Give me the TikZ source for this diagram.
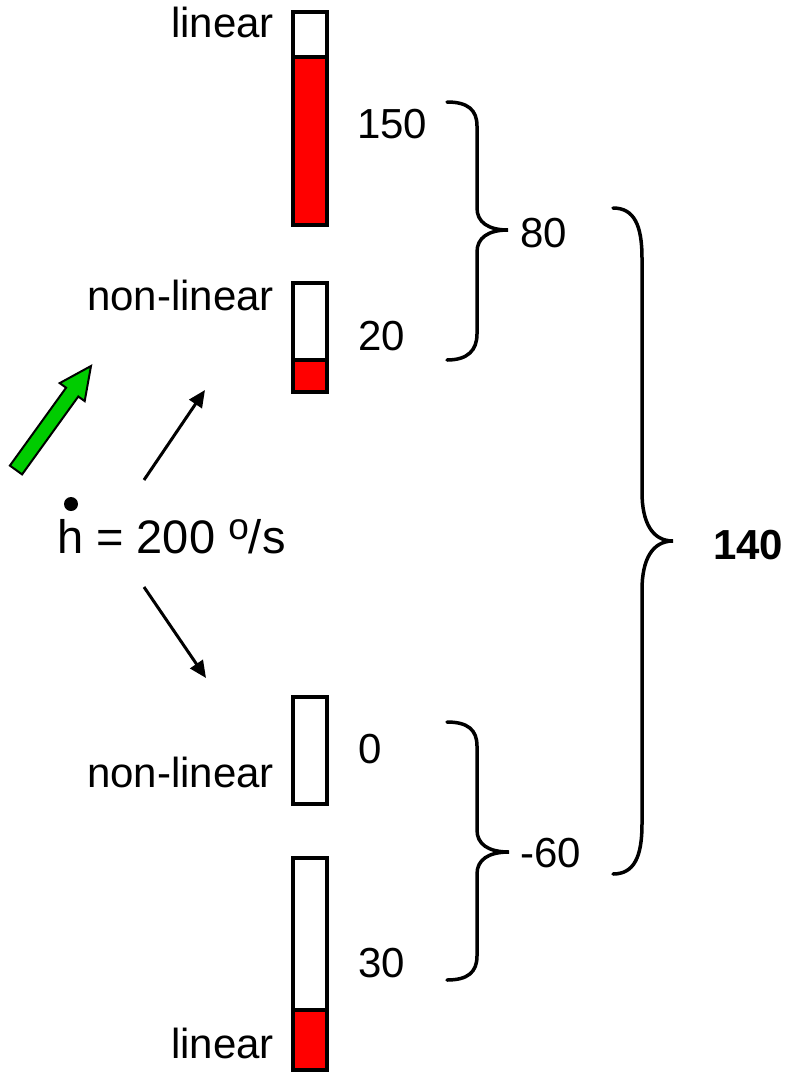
\documentclass[tikz,border=0pt]{standalone}
\usepackage{fontspec}
\setmainfont{Liberation Sans}
\usetikzlibrary{arrows.meta}
\definecolor{barred}{RGB}{255,0,0}
\definecolor{arrgreen}{RGB}{0,204,0}
\tikzset{
  lbl/.style={inner sep=0pt, font=\fontsize{42}{48}\selectfont},
  leftlbl/.style={lbl, anchor=base east},
  vallbl/.style={lbl, anchor=base west},
  barframe/.style={draw=black, line width=3.5pt},
  barfill/.style={fill=barred},
  bracepath/.style={draw=black, line width=3.5pt, line cap=round},
  thinarrow/.style={draw=black, line width=3pt, -{Triangle[length=17pt,width=15pt]}},
}
\begin{document}
\begin{tikzpicture}[x=1pt,y=-1pt]
\useasboundingbox (0,0) rectangle (790,1072);

% bars
\fill[barfill] (293,57) rectangle (327,225);
\draw[barframe] (293,12) rectangle (327,225);
\draw[barframe] (293,57) -- (327,57);

\fill[barfill] (293,360) rectangle (327,392);
\draw[barframe] (293,283) rectangle (327,392);
\draw[barframe] (293,360) -- (327,360);

\draw[barframe] (293,697) rectangle (327,804);

\fill[barfill] (293,1010) rectangle (327,1070);
\draw[barframe] (293,858) rectangle (327,1070);
\draw[barframe] (293,1010) -- (327,1010);

% left labels
\node[leftlbl] (l1) at (274,37) {linear};
\node[leftlbl] (l2) at (274,310) {non-linear};
\node[leftlbl] (l3) at (274,787) {non-linear};
\node[leftlbl] (l4) at (274,1058) {linear};

% value labels
\node[vallbl] (v150) at (357,138) {150};
\node[vallbl] (v20) at (358,350) {20};
\node[vallbl] (v80) at (520,247) {80};
\node[vallbl] (v0) at (358,763) {0};
\node[vallbl] (v30) at (358,977) {30};
\node[vallbl] (vm60) at (520,867) {-60};
\node[vallbl, font=\fontsize{42}{48}\selectfont\bfseries] (v140) at (713,559) {140};

% braces
\draw[bracepath] (447,102) .. controls (468,102) and (477,110) .. (477,126)
  -- (477,208) .. controls (477,222) and (488,230) .. (508,230)
  .. controls (488,230) and (477,238) .. (477,252)
  -- (477,334) .. controls (477,350) and (468,360) .. (447,360);
\draw[bracepath] (447,722) .. controls (468,722) and (477,730) .. (477,746)
  -- (477,830) .. controls (477,844) and (488,852) .. (509,852)
  .. controls (488,852) and (477,860) .. (477,874)
  -- (477,956) .. controls (477,972) and (468,980) .. (447,980);
\draw[bracepath] (613,208) .. controls (634,208) and (642,225) .. (642,258)
  -- (642,492) .. controls (642,522) and (652,541) .. (673,541)
  .. controls (652,541) and (642,560) .. (642,590)
  -- (642,824) .. controls (642,857) and (634,874) .. (613,874);

% h-dot text
\node[inner sep=0pt, anchor=base west, font=\fontsize{47}{52}\selectfont] (h) at (57,553)
  {h = 200 \raisebox{14pt}{\fontsize{37}{37}\selectfont o}/s};
\fill (71,504) circle (7);

% arrows
\coordinate (a1s) at (144,480);
\coordinate (a1e) at (205,390);
\coordinate (a2s) at (144,587);
\coordinate (a2e) at (206,678);
\draw[thinarrow] (a1s) -- (a1e);
\draw[thinarrow] (a2s) -- (a2e);

% green block arrow
\draw[fill=arrgreen, draw=black, line width=2pt, line join=miter]
  (9.9,465.6) -- (22.1,474.4) -- (78.3,396.5) -- (84.7,401.1) -- (91,366)
  -- (59.7,383.1) -- (66.1,387.7) -- cycle;
\end{tikzpicture}
\end{document}
